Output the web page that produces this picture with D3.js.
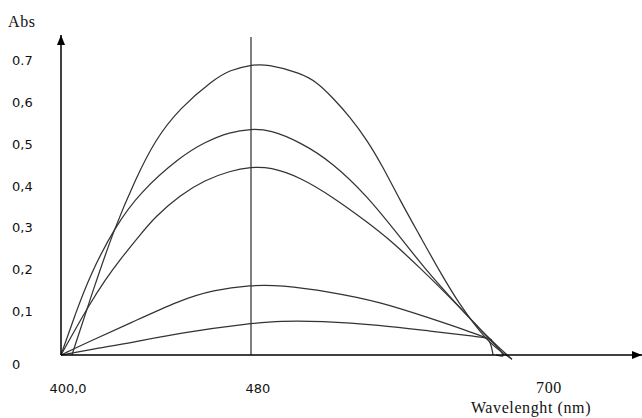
<!DOCTYPE html>
<meta charset="utf-8">
<style>
body { margin: 0; background: #fff; }
.curve { fill: none; stroke: #333; stroke-width: 1.25; }
.axisLine { stroke: #000; stroke-width: 1.5; }
.num { font-family: "DejaVu Sans", sans-serif; font-size: 13px; fill: #111; }
.ser { font-family: "Liberation Serif", "Times New Roman", serif; font-size: 16px; letter-spacing: 0.6px; fill: #111; }
</style>
<svg width="642" height="418"></svg>
<script src="https://d3js.org/d3.v7.min.js"></script>
<script>

// tick values and their printed labels
var yTicks = [0, 0.1, 0.2, 0.3, 0.4, 0.5, 0.6, 0.7];
var yTickLabels = ["0", "0,1", "0,2", "0,3", "0,4", "0,5", "0,6", "0.7"];
var xTicks = [400, 480, 700];
var xTickLabels = ["400,0", "480", "700"];
var peakLine = 480;

// spectra, [wavelength nm, absorbance]
var spectrumA = [[404.6,0],[413.5,0.155],[422.7,0.306],[431.2,0.418],[439.6,0.514],[450.1,0.590],
  [464.0,0.657],[471.2,0.681],[480,0.693],[492.1,0.695],[517.0,0.674],[529.9,0.652],[542.0,0.614],
  [554.8,0.569],[567.7,0.514],[579.8,0.449],[592.6,0.370],[607.8,0.284],[622.9,0.198],[638.0,0.119],
  [653.1,0.055],[664.5,0.017],[677.3,-0.010]];
var spectrumB = [[400,0],[405.9,0.096],[412.2,0.191],[422.7,0.306],[433.3,0.389],[450.1,0.473],
  [460.6,0.509],[471.2,0.533],[480,0.540],[494.4,0.538],[517.0,0.509],[542.0,0.459],[567.7,0.380],
  [590.4,0.291],[611.5,0.206],[632.7,0.131],[660.7,0.036],[677.3,-0.010]];
var spectrumC = [[400,0],[405.9,0.060],[411.4,0.115],[418.5,0.179],[425.7,0.234],[433.3,0.287],
  [439.6,0.330],[450.1,0.382],[460.6,0.418],[471.2,0.440],[480,0.449],[494.4,0.449],[517.0,0.425],
  [542.0,0.377],[567.7,0.318],[585.1,0.275],[607.8,0.208],[632.7,0.131],[660.7,0.036],[674.3,-0.007],
  [665.2,0]];
var spectrumD = [[400,0],[412.2,0.033],[429.1,0.076],[450.1,0.131],[464.0,0.155],[480,0.167],
  [501.9,0.167],[539.7,0.151],[577.5,0.127],[615.3,0.088],[641.8,0.060],[662.2,0.036]];
var spectrumE = [[400,0],[416.4,0.017],[429.1,0.029],[450.1,0.053],[480.8,0.076],[501.9,0.081],
  [532.2,0.081],[577.5,0.072],[615.3,0.057],[653.1,0.043],[660.7,0.041],[663.0,0]];

var spectra = [spectrumA, spectrumB, spectrumC, spectrumD, spectrumE];

var svg = d3.select("svg");

// the original axis is schematic: 400-480 is stretched compared to 480-700
var x = d3.scaleLinear()
    .domain([400, 480, 700])
    .range([61, 251, 542]);

var y = d3.scaleLinear()
    .domain([0, 0.7])
    .range([355, 62]);

var line = d3.line()
    .x(function(d) { return x(d[0]); })
    .y(function(d) { return y(d[1]); })
    .curve(d3.curveBasis);

// arrow heads
var defs = svg.append("defs");
defs.append("marker")
    .attr("id", "arrow")
    .attr("viewBox", "0 0 10 8")
    .attr("refX", 10)
    .attr("refY", 4)
    .attr("markerWidth", 10)
    .attr("markerHeight", 8)
    .attr("markerUnits", "userSpaceOnUse")
    .attr("orient", "auto")
  .append("path")
    .attr("d", "M0,0L10,4L0,8Z")
    .attr("fill", "#000");

// marker line at 480 nm
svg.append("line")
    .attr("x1", x(peakLine)).attr("x2", x(peakLine))
    .attr("y1", 37).attr("y2", y(0))
    .attr("stroke", "#000")
    .attr("stroke-width", 1);

svg.append("g")
  .selectAll("path")
  .data(spectra)
  .enter().append("path")
    .attr("class", "curve")
    .attr("d", line);

// axes
svg.append("line")
    .attr("class", "axisLine")
    .attr("x1", x(400)).attr("y1", y(0))
    .attr("x2", x(400)).attr("y2", 35)
    .attr("marker-end", "url(#arrow)");

svg.append("line")
    .attr("class", "axisLine")
    .attr("x1", x(400)).attr("y1", y(0))
    .attr("x2", 642).attr("y2", y(0))
    .attr("marker-end", "url(#arrow)");

svg.append("g")
  .selectAll("text")
  .data(yTicks)
  .enter().append("text")
    .attr("class", "num")
    .attr("x", 12)
    .attr("y", function(d) { return d === 0 ? y(d) + 14 : y(d) + 3; })
    .text(function(d, i) { return yTickLabels[i]; });

svg.append("g")
  .selectAll("text")
  .data(xTicks)
  .enter().append("text")
    .attr("class", function(d) { return d === 700 ? "ser" : "num"; })
    .attr("x", function(d) { return x(d) + 7; })
    .attr("y", 393)
    .attr("text-anchor", "middle")
    .text(function(d, i) { return xTickLabels[i]; });

svg.append("text")
    .attr("class", "ser")
    .attr("x", 8)
    .attr("y", 27)
    .text("Abs");

svg.append("text")
    .attr("class", "ser")
    .attr("x", 531)
    .attr("y", 413)
    .attr("text-anchor", "middle")
    .text("Wavelenght (nm)");

</script>
